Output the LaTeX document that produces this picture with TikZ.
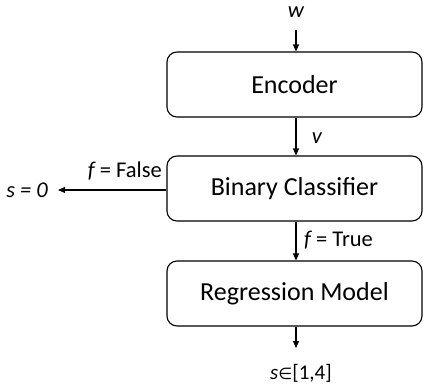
\documentclass[tikz,border=0pt]{standalone}
\usepackage{fontspec}
\setmainfont{Carlito}
\newfontfamily\symfont{DejaVu Sans}
\usetikzlibrary{arrows.meta}
\begin{document}
\begin{tikzpicture}[x=1pt,y=-1pt,
  box/.style={draw,line width=1.1pt,rounded corners=10pt,minimum width=255pt,minimum height=65pt,inner sep=0pt,font=\fontsize{26}{30}\selectfont},
  lbl/.style={inner sep=0pt,font=\fontsize{22.5}{26}\selectfont},
  arr/.style={line width=1.1pt,-{Triangle[length=7pt,width=6pt]}}]
\useasboundingbox (0,0) rectangle (423,385);
\node[box] (enc) at (294.5,84.5) {Encoder};
\node[box] (bc) at (294.5,188.5) {Binary Classifier};
\node[box] (reg) at (294.5,293.5) {Regression Model};
\coordinate (win) at (296,30);
\coordinate (sout) at (296,348);
\coordinate (zero) at (58,190);
\node[lbl] (w) at (296,12) {\itshape w};
\node[lbl] (v) at (317,138) {\itshape v};
\node[lbl,anchor=west] (ftrue) at (304,240) {\itshape f\upshape{} = True};
\node[lbl,anchor=base east] (ffalse) at (162,178) {\itshape f\upshape{} = False};
\node[lbl,anchor=east] (s0) at (48,190) {\itshape s = 0};
\node[lbl,anchor=base west,font=\fontsize{21}{25}\selectfont] (srange) at (270,379) {\itshape s\upshape{\symfont\fontsize{16}{20}\selectfont ∈}[1,4]};
\draw[arr] (win) -- (enc.north -| win);
\draw[arr] (enc.south -| win) -- (bc.north -| win);
\draw[arr] (bc.south -| win) -- (reg.north -| win);
\draw[arr] (reg.south -| win) -- (sout);
\draw[arr] (bc.west |- zero) -- (zero);
\end{tikzpicture}
\end{document}
